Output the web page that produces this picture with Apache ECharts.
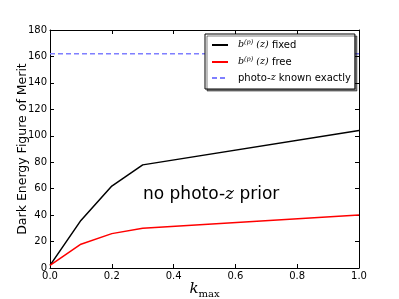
<!DOCTYPE html>
<html><head><meta charset="utf-8">
<script src="https://cdn.jsdelivr.net/npm/echarts@6/dist/echarts.min.js"></script>
<style>html,body{margin:0;padding:0;background:#fff}#c{width:399px;height:299px}</style>
</head><body><div id="c"></div>
<script>
const kmax = [0.0, 0.1, 0.2, 0.3, 1.0];
const fixedVals = [2, 36, 62, 78, 104];
const freeVals = [2, 18, 26, 30, 40];
const exactX = [0.0, 1.0];
const exactVals = [162, 162];
const xTicks = [0.0, 0.2, 0.4, 0.6, 0.8, 1.0];
const yTicks = [0, 20, 40, 60, 80, 100, 120, 140, 160, 180];

const pair = (xs, ys) => xs.map((x, i) => [x, ys[i]]);
const chart = echarts.init(document.getElementById('c'));
const font = 'DejaVu Sans';
const axisCommon = {
  axisLine: {show: true, onZero: false, lineStyle: {color: '#000', width: 1}},
  axisTick: {show: true, inside: true, length: 4, lineStyle: {color: '#000'}},
  splitLine: {show: false}
};
chart.setOption({
  animation: false,
  grid: {left: 50, right: 40, top: 30, bottom: 31, outerBoundsMode: 'none', containLabel: false},
  xAxis: [
    Object.assign({type: 'value', min: 0, max: 1, interval: 0.2, position: 'bottom',
      axisLabel: {fontFamily: font, fontSize: 10, color: '#000', margin: 3,
        formatter: v => v.toFixed(1)},
      name: '{k|k}{s|max}', nameLocation: 'middle', nameGap: 11, nameMoveOverlap: false,
      nameTextStyle: {verticalAlign: 'top', rich: {
        k: {fontFamily: 'DejaVu Serif', fontStyle: 'italic', fontSize: 15, color: '#000'},
        s: {fontFamily: 'DejaVu Serif', fontSize: 10, color: '#000', padding: [10, 0, 0, 0]}
      }}
    }, axisCommon),
    Object.assign({type: 'value', min: 0, max: 1, interval: 0.2, position: 'top',
      axisLabel: {show: false}}, axisCommon)
  ],
  yAxis: [
    Object.assign({type: 'value', min: 0, max: 180, interval: 20, position: 'left',
      axisLabel: {fontFamily: font, fontSize: 10, color: '#000', margin: 3},
      name: 'Dark Energy Figure of Merit', nameLocation: 'middle', nameGap: 21, nameMoveOverlap: false,
      nameTextStyle: {fontFamily: font, fontSize: 12.5, color: '#000'}
    }, axisCommon),
    Object.assign({type: 'value', min: 0, max: 180, interval: 20, position: 'right',
      axisLabel: {show: false}}, axisCommon)
  ],
  legend: {
    orient: 'vertical', left: 205, top: 34,
    backgroundColor: '#fff', borderColor: '#000', borderWidth: 1,
    shadowColor: 'rgba(0,0,0,0.5)', shadowOffsetX: 2, shadowOffsetY: 2, shadowBlur: 0,
    padding: [5, 4, 6, 6], itemGap: 6, itemWidth: 16, itemHeight: 12,
    itemStyle: {opacity: 0},
    textStyle: {fontFamily: font, fontSize: 10, color: '#000', padding: [0, 0, 0, 5],
      rich: {
        b: {fontFamily: 'DejaVu Serif', fontStyle: 'italic', fontSize: 9.5, color: '#000'},
        p: {fontFamily: 'DejaVu Serif', fontStyle: 'italic', fontSize: 6.5, color: '#000', verticalAlign: 'top', padding: [0, 0, 5, 0]},
        z: {fontFamily: 'DejaVu Serif', fontStyle: 'italic', fontSize: 9.5, color: '#000'},
        t: {fontFamily: font, fontSize: 10, color: '#000'}
      }},
    formatter: n => {
      if (n === 'fixed') return '{b|b}{p|(p)}{z| (z)}{t| fixed}';
      if (n === 'free') return '{b|b}{p|(p)}{z| (z)}{t| free}';
      return '{t|photo-}{z|z}{t| known exactly}';
    },
    data: ['fixed', 'free', 'exact']
  },
  graphic: [{
    type: 'text', left: 143, top: 186,
    style: {
      text: 'no photo-{z|z} prior', fontFamily: font, fontSize: 17, fill: '#000',
      rich: {z: {fontFamily: 'DejaVu Serif', fontStyle: 'italic', fontSize: 17, fill: '#000'}}
    }
  }],
  series: [
    {name: 'fixed', type: 'line', data: pair(kmax, fixedVals), symbol: 'none',
      lineStyle: {color: '#000', width: 1.5}, itemStyle: {color: '#000'}},
    {name: 'free', type: 'line', data: pair(kmax, freeVals), symbol: 'none',
      lineStyle: {color: '#ff0000', width: 1.5}, itemStyle: {color: '#ff0000'}},
    {name: 'exact', type: 'line', data: pair(exactX, exactVals), symbol: 'none',
      lineStyle: {color: '#7f7fff', width: 1.5, type: [5, 3]}, itemStyle: {color: '#7f7fff'}}
  ]
});
</script></body></html>
